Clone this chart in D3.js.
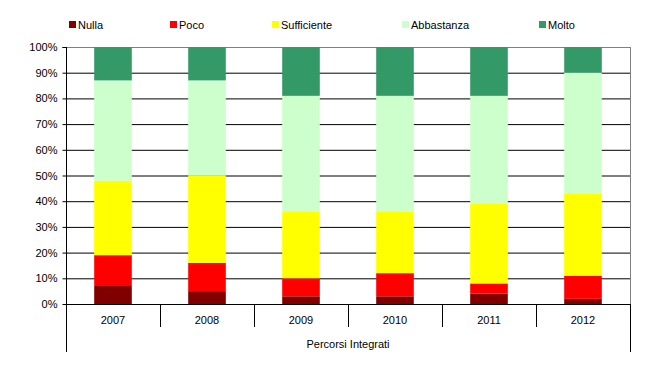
<!DOCTYPE html>
<html><head><meta charset="utf-8">
<script src="https://cdn.jsdelivr.net/npm/d3@7"></script>
<style>body{margin:0;background:#fff}svg{display:block;font-family:"Liberation Sans",Arial,sans-serif}</style>
</head><body><svg id="c" width="658" height="370"></svg>
<script>
const categories = ["2007","2008","2009","2010","2011","2012"];
const seriesNames = ["Nulla","Poco","Sufficiente","Abbastanza","Molto"];
const seriesColors = ["#800000","#FF0000","#FFFF00","#CCFFCC","#339966"];
const nulla = [7,5,3,3,4,2];
const poco = [12,11,7,9,4,9];
const sufficiente = [29,34,26,24,31,32];
const abbastanza = [39,37,45,45,42,47];
const molto = [13,13,19,19,19,10];
const yTicks = [0,10,20,30,40,50,60,70,80,90,100];
const xTitle = "Percorsi Integrati";

const svg = d3.select("#c");
const L=66,R=630,T=47,B=304;
const rows = categories.map((c,i)=>({cat:c,Nulla:nulla[i],Poco:poco[i],Sufficiente:sufficiente[i],Abbastanza:abbastanza[i],Molto:molto[i]}));
const stack = d3.stack().keys(seriesNames)(rows);
const x = d3.scaleBand().domain(categories).range([L,R]).paddingInner(0).paddingOuter(0);
const y = d3.scaleLinear().domain([0,100]).range([B,T]);

// gridlines
svg.append("g").selectAll("line").data(yTicks.filter(t=>t>0&&t<100)).join("line")
  .attr("x1",L).attr("x2",R).attr("y1",d=>y(d)+0.5).attr("y2",d=>y(d)+0.5)
  .attr("stroke","#000").attr("stroke-width",1);
// top & right border
svg.append("line").attr("x1",L).attr("x2",R).attr("y1",T+0.5).attr("y2",T+0.5).attr("stroke","#808080");
svg.append("line").attr("x1",R+0.5).attr("x2",R+0.5).attr("y1",T).attr("y2",B).attr("stroke","#808080");

// bars
const bw = x.bandwidth()*0.4;
svg.append("g").selectAll("g").data(stack).join("g").attr("fill",(d,i)=>seriesColors[i])
  .selectAll("rect").data(d=>d).join("rect")
  .attr("x",d=>x(d.data.cat)+(x.bandwidth()-bw)/2)
  .attr("width",bw)
  .attr("y",d=>y(d[1]))
  .attr("height",d=>y(d[0])-y(d[1]));

// y axis
const ya = d3.axisLeft(y).tickValues(yTicks).tickFormat(d=>d+"%").tickSize(4).tickPadding(5);
const gy = svg.append("g").attr("transform",`translate(${L+0.5},0)`).call(ya);
gy.select(".domain").attr("stroke","#000").attr("d",`M-4,${y(100)+0.5}H0V${B}`);
gy.selectAll(".tick line").attr("stroke","#000");
gy.selectAll("text").attr("font-size","11px").attr("fill","#000").attr("font-family","Liberation Sans, Arial, sans-serif");

// x axis baseline
svg.append("line").attr("x1",L).attr("x2",R+1).attr("y1",B+0.5).attr("y2",B+0.5).attr("stroke","#000");
// category dividers
const bounds = categories.map(c=>x(c)).concat([R]);
svg.append("g").selectAll("line").data(bounds).join("line")
  .attr("x1",d=>Math.round(d)+0.5).attr("x2",d=>Math.round(d)+0.5)
  .attr("y1",B).attr("y2",(d,i)=>(i===0||i===bounds.length-1)?352:327)
  .attr("stroke","#000");
svg.append("line").attr("x1",L+0.5).attr("x2",L+0.5).attr("y1",T).attr("y2",352).attr("stroke","#000");
// category labels
svg.append("g").selectAll("text").data(categories).join("text")
  .attr("x",d=>x(d)+x.bandwidth()/2).attr("y",324)
  .attr("text-anchor","middle").attr("font-size","11px").text(d=>d);
svg.append("text").attr("x",(L+R)/2).attr("y",348).attr("text-anchor","middle").attr("font-size","11px").text(xTitle);

// legend
const legX=[69,170,272,402,539];
const lg = svg.append("g").selectAll("g").data(seriesNames).join("g")
  .attr("transform",(d,i)=>`translate(${legX[i]},21)`);
lg.append("rect").attr("width",7).attr("height",7).attr("fill",(d,i)=>seriesColors[i]);
lg.append("text").attr("x",9).attr("y",7.5).attr("font-size","11px").text(d=>d);
</script></body></html>
